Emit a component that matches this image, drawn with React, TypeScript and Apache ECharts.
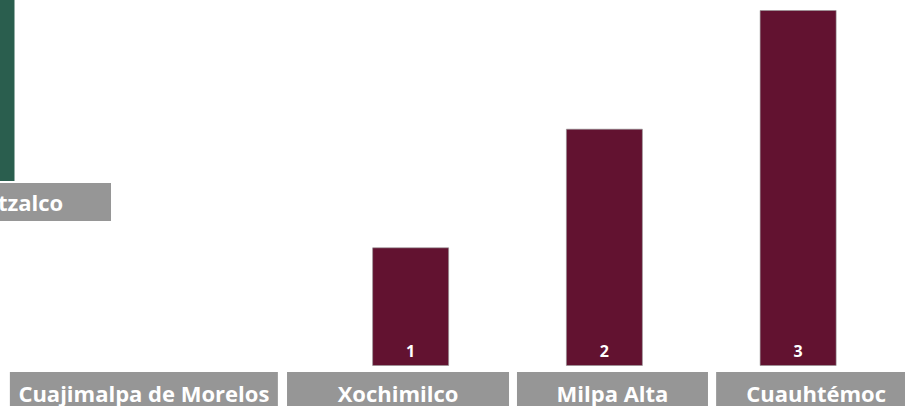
import React, { useEffect, useRef } from "react";
import * as echarts from "echarts";

// ---- data ----
const categories = ["Cuajimalpa de Morelos", "Xochimilco", "Milpa Alta", "Cuauhtémoc"];
const values = [0, 1, 2, 3];
const topCategories = ["Azcapotzalco"];
const topValues = [5];

// ---- label box layout (width, horizontal shift from tick) ----
const boxWidths = [268, 222, 191, 200];
const boxShifts = [-73, -12.6, 8.1, 18];
const topBoxWidths = [239];
const topBoxShifts = [15.5];

const FONT = "'Open Sans', 'Noto Sans', sans-serif";
const GRAY = "#969696";
const MAROON = "#621230";
const GREEN = "#2A5E4E";

function buildRich(widths: number[], shifts: number[], prefix: string, lineHeight: number, fontSize: number) {
  const rich: Record<string, any> = {};
  widths.forEach((w, i) => {
    rich[`${prefix}b${i}`] = {
      width: w,
      lineHeight,
      height: lineHeight,
      backgroundColor: GRAY,
      color: "#ffffff",
      fontWeight: "bold",
      fontSize,
      fontFamily: FONT,
      align: "center",
    };
    const d = shifts[i];
    rich[`${prefix}l${i}`] = { width: Math.max(0, 2 * d), color: "transparent", fontSize: 1, lineHeight };
    rich[`${prefix}r${i}`] = { width: Math.max(0, -2 * d), color: "transparent", fontSize: 1, lineHeight };
  });
  return rich;
}

function fmt(prefix: string, shifts: number[]) {
  return (val: string, idx: number) => {
    const d = shifts[idx];
    const l = d > 0 ? `{${prefix}l${idx}| }` : "";
    const r = d < 0 ? `{${prefix}r${idx}| }` : "";
    return `${l}{${prefix}b${idx}|${val}}${r}`;
  };
}

export default function App() {
  const ref = useRef<HTMLDivElement>(null);
  useEffect(() => {
    if (!ref.current) return;
    const chart = echarts.init(ref.current, null, { renderer: "svg" });
    chart.setOption({
      animation: false,
      backgroundColor: "#ffffff",
      grid: [
        { left: 120, width: 775, top: 10, bottom: 40, containLabel: false, outerBoundsMode: "none" },
        { left: -124, width: 200, top: 0, bottom: 225, containLabel: false, outerBoundsMode: "none" },
      ],
      xAxis: [
        {
          type: "category",
          gridIndex: 0,
          data: categories,
          axisLine: { show: false },
          axisTick: { show: false },
          axisLabel: {
            interval: 0,
            margin: 6,
            verticalAlign: "top",
            formatter: fmt("m", boxShifts),
            rich: buildRich(boxWidths, boxShifts, "m", 42, 22),
          },
        },
        {
          type: "category",
          gridIndex: 1,
          data: topCategories,
          axisLine: { show: false },
          axisTick: { show: false },
          axisLabel: {
            interval: 0,
            margin: 2,
            verticalAlign: "top",
            formatter: fmt("t", topBoxShifts),
            rich: buildRich(topBoxWidths, topBoxShifts, "t", 38, 22),
          },
        },
      ],
      yAxis: [
        { type: "value", gridIndex: 0, min: 0, max: 3, show: false, splitLine: { show: false } },
        { type: "value", gridIndex: 1, min: 0, max: 5, show: false, splitLine: { show: false } },
      ],
      series: [
        {
          type: "bar",
          xAxisIndex: 0,
          yAxisIndex: 0,
          data: values.map((v) => ({ value: v, itemStyle: { borderWidth: v ? 1 : 0 } })),
          barWidth: 77,
          itemStyle: { color: MAROON, borderColor: "rgba(150,150,150,0.6)", borderWidth: 1 },
          label: {
            show: true,
            position: "insideBottom",
            distance: 7,
            color: "#ffffff",
            fontWeight: "bold",
            fontSize: 16,
            lineHeight: 16,
            fontFamily: FONT,
            formatter: (p: any) => (p.value ? String(p.value) : ""),
          },
        },
        {
          type: "bar",
          xAxisIndex: 1,
          yAxisIndex: 1,
          data: topValues,
          barWidth: 77,
          itemStyle: { color: GREEN },
        },
      ],
    });
    return () => chart.dispose();
  }, []);
  return (
    <div
      ref={ref}
      style={{ position: "absolute", left: 0, top: 0, width: 905, height: 406 }}
    />
  );
}
